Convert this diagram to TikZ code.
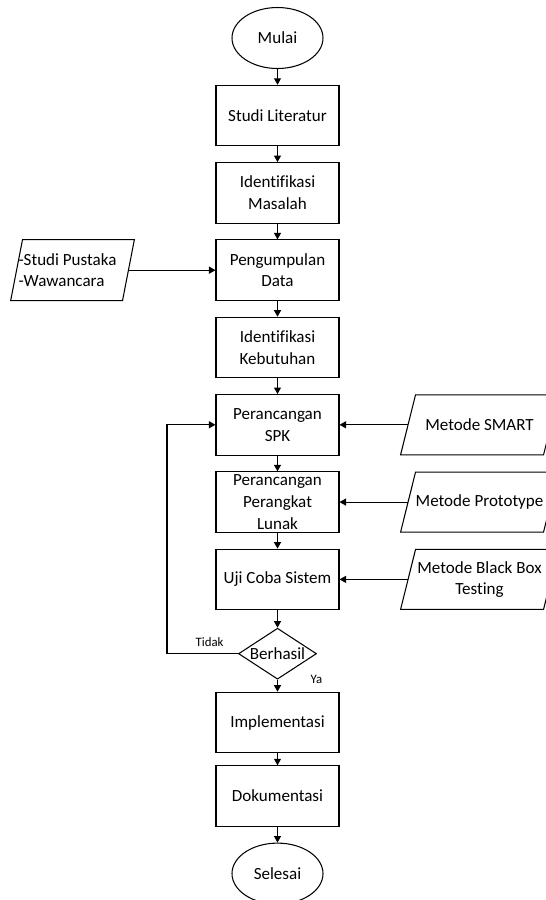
\documentclass[tikz,border=0pt]{standalone}
\usepackage{fontspec}
\setmainfont{Carlito}[Ligatures=NoCommon]
\usetikzlibrary{positioning}
\usetikzlibrary{shapes.geometric}
\usetikzlibrary{arrows.meta}

\begin{document}
\begin{tikzpicture}[
		node distance=0.315cm,
		every node/.style={font=\fontsize{9.7}{12.3}\selectfont},
		proses/.style={rectangle,draw,line width=0.6pt,minimum width=2.46cm,minimum height=1.21cm,align=center,inner sep=1pt},
		terminal/.style={ellipse,draw,line width=0.6pt,minimum width=1.82cm,minimum height=1.22cm,inner sep=0pt},
		masukan/.style={trapezium,trapezium left angle=76,trapezium right angle=104,draw,line width=0.6pt,inner xsep=1.28cm,inner ysep=0.6cm},
		keputusan/.style={diamond,draw,line width=0.6pt,minimum width=1.56cm,minimum height=1.02cm,inner sep=0pt},
		panah/.style={-{Triangle[length=1.3mm,width=1.4mm]},line width=0.6pt},
		ket/.style={font=\fontsize{7.3}{9}\selectfont,inner sep=1pt}
		]
		\useasboundingbox (0,0) rectangle (10.92,-18);
		% alur utama
		\node[terminal] (mulai) at (5.55,-0.76) {Mulai};
		\node[proses, below=of mulai] (literatur) {Studi Literatur};
		\node[proses, below=of literatur] (masalah) {Identifikasi\\Masalah};
		\node[proses, below=of masalah] (pengumpulan) {Pengumpulan\\Data};
		\node[proses, below=of pengumpulan] (kebutuhan) {Identifikasi\\Kebutuhan};
		\node[proses, below=of kebutuhan] (spk) {Perancangan\\SPK};
		\node[proses, below=of spk] (perangkat) {Perancangan\\Perangkat\\Lunak};
		\node[proses, below=of perangkat] (uji) {Uji Coba Sistem};
		\node[keputusan, below=0.35cm of uji] (berhasil) {};
		\node (berhasilteks) at (berhasil) {Berhasil};
		\node[proses, below=0.24cm of berhasil] (implementasi) {Implementasi};
		\node[proses, below=0.24cm of implementasi] (dokumentasi) {Dokumentasi};
		\node[terminal, below=of dokumentasi] (selesai) {Selesai};
		% masukan samping
		\node[masukan, trapezium left angle=79, trapezium right angle=101, inner xsep=1cm, inner ysep=0.61cm,
			left=1.73cm of pengumpulan] (pustaka) {};
		\node[align=left, xshift=-0.1cm] (pustakateks) at (pustaka) {-Studi Pustaka\\-Wawancara};
		\node[masukan, right=1.36cm of spk] (smart) {};
		\node (smartteks) at (smart) {Metode SMART};
		\node[masukan, right=1.36cm of perangkat] (prototype) {};
		\node (prototypeteks) at (prototype) {Metode Prototype};
		\node[masukan, right=1.36cm of uji] (blackbox) {};
		\node[align=center] (blackboxteks) at (blackbox) {Metode Black Box\\Testing};
		% panah
		\draw[panah] (mulai) -- (literatur);
		\draw[panah] (literatur) -- (masalah);
		\draw[panah] (masalah) -- (pengumpulan);
		\draw[panah] (pengumpulan) -- (kebutuhan);
		\draw[panah] (kebutuhan) -- (spk);
		\draw[panah] (spk) -- (perangkat);
		\draw[panah] (perangkat) -- (uji);
		\draw[panah] (uji) -- (berhasil);
		\draw[panah] (berhasil) -- (implementasi);
		\draw[panah] (implementasi) -- (dokumentasi);
		\draw[panah] (dokumentasi) -- (selesai);
		\draw[panah] (pustaka) -- (pengumpulan);
		\draw[panah] (smart) -- (spk);
		\draw[panah] (prototype) -- (perangkat);
		\draw[panah] (blackbox) -- (uji);
		\draw[panah] (berhasil.west) -- node[ket, above=3pt, pos=0.4] (tidak) {Tidak} ++(-1.42,0) |- (spk.west);
		\node[ket] (ya) at ([xshift=0.78cm]berhasil.south) {Ya};
	\end{tikzpicture}
\end{document}
